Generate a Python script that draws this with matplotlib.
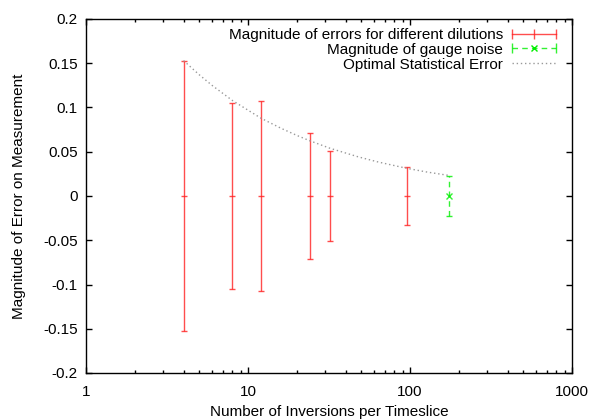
import matplotlib
matplotlib.use("Agg")
import matplotlib.pyplot as plt
import numpy as np
from matplotlib.lines import Line2D
from matplotlib.legend_handler import HandlerLine2D
from matplotlib.ticker import FuncFormatter, FixedLocator, LogLocator, NullFormatter

# Data
dilutions_x = [4, 8, 12, 24, 32, 96]
dilutions_err = [0.153, 0.105, 0.107, 0.071, 0.051, 0.033]
gauge_x = [173]
gauge_err = [0.023]
optimal_x = [4, 5, 6, 8, 10, 12, 16, 20, 24, 32, 48, 64, 96, 128, 173]
optimal_y = [0.153, 0.137, 0.125, 0.108, 0.097, 0.088, 0.0765, 0.0685,
             0.0625, 0.054, 0.0442, 0.0383, 0.0312, 0.027, 0.0233]
y_ticks = [-0.2, -0.15, -0.1, -0.05, 0, 0.05, 0.1, 0.15, 0.2]
x_ticks = [1, 10, 100, 1000]

plt.rcParams['font.family'] = ['Liberation Sans', 'DejaVu Sans']
FS = 11

W, H = 598, 420
fig = plt.figure(figsize=(W / 100, H / 100), dpi=100)
ax = fig.add_axes([86 / W, 1 - 373 / H, (572 - 86) / W, (373 - 19) / H])

red = '#ff2020'
green = '#00ee00'
grey = '#999999'

eb1 = ax.errorbar(dilutions_x, [0] * len(dilutions_x), yerr=dilutions_err,
                  fmt='_', color=red, ecolor=red, elinewidth=1.0, capsize=2.5,
                  capthick=1.0, markersize=5, markeredgewidth=1.0, alpha=0.8)
eb2 = ax.errorbar(gauge_x, [0] * len(gauge_x), yerr=gauge_err,
                  fmt='x', color=green, ecolor=green, elinewidth=1.0, capsize=2.5,
                  capthick=1.0, markersize=5, markeredgewidth=1.0, alpha=0.8)
eb2[2][0].set_linestyle((0, (4, 3)))
ax.plot(optimal_x, optimal_y, linestyle=(0, (1, 2)), color=grey, linewidth=1.0)

ax.set_xscale('log')
ax.set_xlim(1, 1000)
ax.set_ylim(-0.2, 0.2)
ax.xaxis.set_major_locator(FixedLocator(x_ticks))
ax.xaxis.set_major_formatter(FuncFormatter(lambda v, p: '%g' % v))
ax.xaxis.set_minor_locator(LogLocator(base=10, subs=np.arange(2, 10)))
ax.xaxis.set_minor_formatter(NullFormatter())
ax.yaxis.set_major_locator(FixedLocator(y_ticks))
ax.yaxis.set_major_formatter(FuncFormatter(lambda v, p: '%g' % round(v, 3)))

ax.tick_params(which='both', direction='in', top=True, right=True,
               labelsize=FS, width=1.0, colors='black')
ax.tick_params(which='major', length=4.5, pad=6)
ax.tick_params(axis='x', which='major', pad=9)
ax.tick_params(which='minor', length=2.5)
for s in ax.spines.values():
    s.set_linewidth(1.0)

ax.set_xlabel('Number of Inversions per Timeslice', fontsize=FS, labelpad=4)
ax.set_ylabel('Magnitude of Error on Measurement', fontsize=FS, labelpad=12)

# Legend proxies (gnuplot style keys)
h_red = Line2D([], [], color=red, marker='|', markersize=7, linewidth=1.0, alpha=0.8)
h_green = Line2D([], [], color=green, marker='|', markersize=7, linewidth=1.0,
                 linestyle=(0, (4, 3)), alpha=0.8)
h_green_x = Line2D([], [], color=green, marker='x', markersize=5, linestyle='none')
h_grey = Line2D([], [], color=grey, linestyle=(0, (1, 2)), linewidth=1.0)
fpx = FS * 100 / 72
leg = ax.legend([h_red, (h_green, h_green_x), h_grey],
                ['Magnitude of errors for different dilutions',
                 'Magnitude of gauge noise', 'Optimal Statistical Error'],
                handler_map={h_red: HandlerLine2D(numpoints=3, marker_pad=0),
                             h_green: HandlerLine2D(numpoints=2, marker_pad=0),
                             h_green_x: HandlerLine2D(numpoints=1)},
                loc='upper right', bbox_to_anchor=(556 / W, 1 - 28 / H),
                bbox_transform=fig.transFigure, frameon=False, markerfirst=False,
                fontsize=FS, borderpad=0, borderaxespad=0,
                handlelength=44 / fpx, handletextpad=9 / fpx, labelspacing=0.05)

fig.savefig('out.png', dpi=100)
